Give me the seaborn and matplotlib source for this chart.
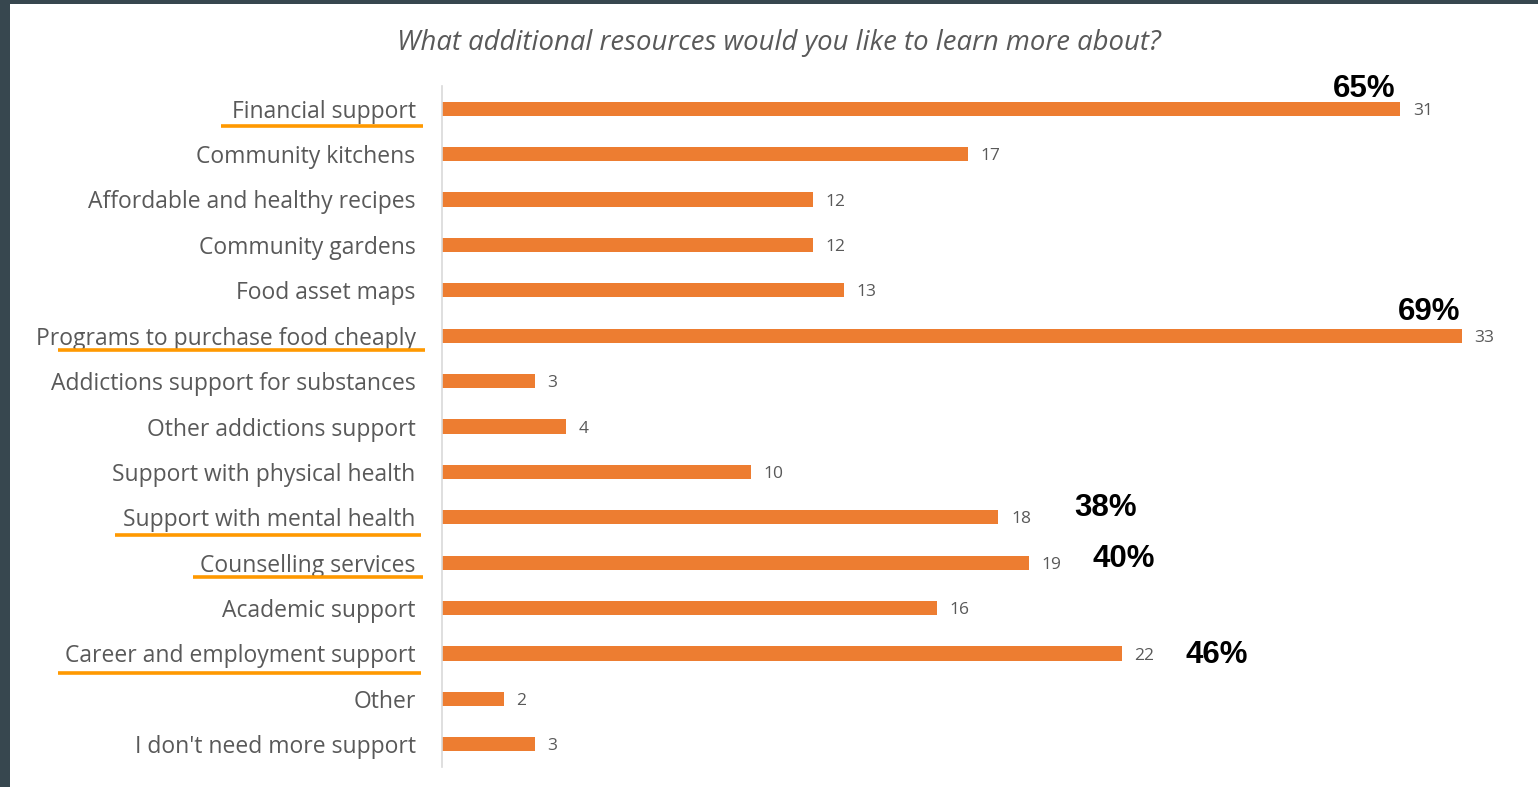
import matplotlib
matplotlib.use("Agg")
import matplotlib.pyplot as plt
import seaborn as sns
import pandas as pd
from matplotlib.patches import Rectangle
from matplotlib.lines import Line2D

categories = [
    "Financial support",
    "Community kitchens",
    "Affordable and healthy recipes",
    "Community gardens",
    "Food asset maps",
    "Programs to purchase food cheaply",
    "Addictions support for substances",
    "Other addictions support",
    "Support with physical health",
    "Support with mental health",
    "Counselling services",
    "Academic support",
    "Career and employment support",
    "Other",
    "I don't need more support",
]
counts = [31, 17, 12, 12, 13, 33, 3, 4, 10, 18, 19, 16, 22, 2, 3]

# highlighted answers and their share of respondents
highlight = ["Financial support", "Programs to purchase food cheaply",
             "Support with mental health", "Counselling services",
             "Career and employment support"]
highlight_pct = ["65%", "69%", "38%", "40%", "46%"]

title = "What additional resources would you like to learn more about?"

df = pd.DataFrame({"resource": categories, "count": counts})

W, H = 1538, 787
fig = plt.figure(figsize=(W / 100, H / 100), dpi=100)
fig.patch.set_facecolor("#37474f")
fig.patches.append(Rectangle((10 / W, 0), 1 - 10 / W, 1 - 4 / H,
                             transform=fig.transFigure, facecolor="white",
                             edgecolor="none", zorder=-10))

ax = fig.add_axes([442 / W, 20 / H, 1082 / W, 681 / H])
ax.set_facecolor("none")
sns.barplot(data=df, x="count", y="resource", order=categories,
            color="#ED7D31", saturation=1, width=0.31, ax=ax)

ax.set_xlim(0, 35)
ax.set_ylim(len(categories) - 0.5, -0.5)
ax.set_xlabel("")
ax.set_ylabel("")
ax.set_xticks([])
for s in ["top", "right", "bottom"]:
    ax.spines[s].set_visible(False)
ax.spines["left"].set_color("#d9d9d9")
ax.spines["left"].set_linewidth(1.2)
ax.tick_params(axis="y", length=0, pad=19, labelsize=16.5, labelcolor="#595959")
for t in ax.get_yticklabels():
    t.set_fontfamily("Open Sans")

for i, v in enumerate(counts):
    ax.annotate(str(v), (v, i), xytext=(9, -1.5), textcoords="offset points",
                ha="left", va="center", fontsize=12.5, color="#595959",
                fontfamily="Open Sans")

# bold share labels, offset from the end of each highlighted bar (points)
pct_offsets = {
    "Financial support": (-26, 14),
    "Programs to purchase food cheaply": (-24, 17),
    "Support with mental health": (77, 7),
    "Counselling services": (68, 3),
    "Career and employment support": (68, -1),
}
for name, pct in zip(highlight, highlight_pct):
    i = categories.index(name)
    ax.annotate(pct, (counts[i], i), xytext=pct_offsets[name],
                textcoords="offset points", ha="center", va="center",
                fontsize=22.5, fontweight="bold", color="black",
                fontfamily="Liberation Sans")

# orange underlines beneath the highlighted labels (figure pixels)
underlines = [(221, 423, 126), (58, 425, 350), (115, 421, 535),
              (193, 423, 577), (58, 421, 673)]
for x0, x1, y in underlines:
    fig.lines.append(Line2D([x0 / W, x1 / W], [1 - y / H, 1 - y / H],
                            transform=fig.transFigure, color="#FF9900",
                            linewidth=2.6, solid_capstyle="butt"))

fig.text(779 / W, 1 - 43 / H, title, ha="center", va="center",
         fontsize=19.8, style="italic", color="#595959", fontfamily="Open Sans")

fig.savefig("out.png", dpi=100)
